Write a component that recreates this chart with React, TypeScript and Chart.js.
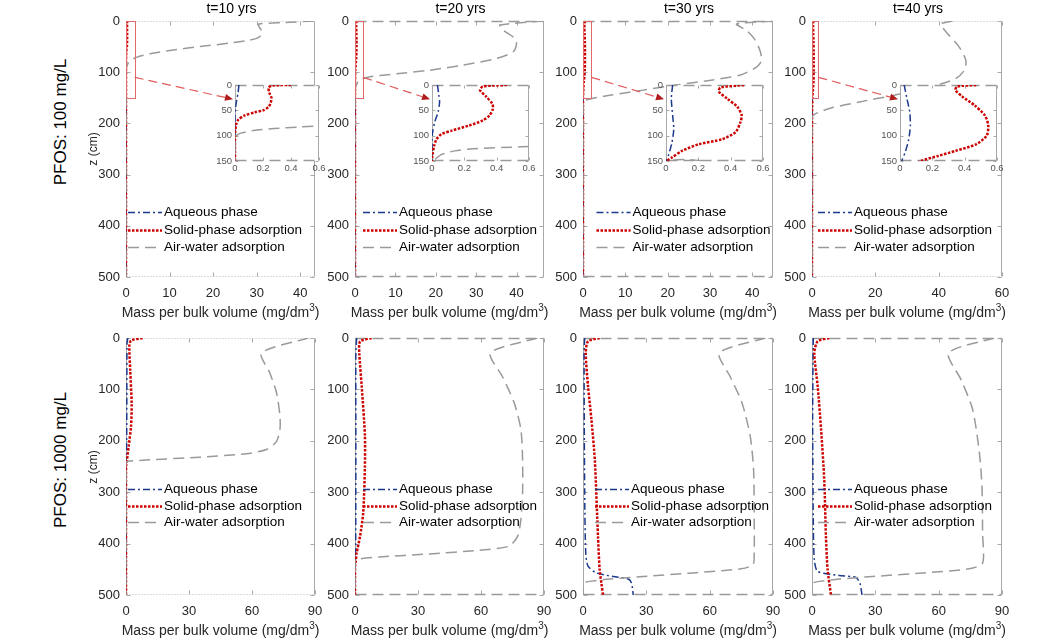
import React, { useEffect, useRef } from "react";
import { Chart, registerables } from "chart.js";

Chart.register(...registerables);

const FONT = '"Liberation Sans", Arial, Helvetica, sans-serif';
const BLUE = "#1b3a8c";
const RED = "#cc0000";
const GRAY = "#9a9a9a";
const AXIS = "#a8a8a8";
const TICK_TEXT = "#262626";
const ZOOM_RECT = "#e06a6a";
const ARROW_LINE = "#e05c5c";
const ARROW_HEAD = "#b01c1c";

// ---- text ----
const TIME_TITLES = ["t=10 yrs", "t=20 yrs", "t=30 yrs", "t=40 yrs"];
const ROW_LABELS = ["PFOS: 100 mg/L", "PFOS: 1000 mg/L"];
const SERIES_LABELS = ["Aqueous phase", "Solid-phase adsorption", "Air-water adsorption"];
const X_TITLE = "Mass per bulk volume (mg/dm";
const X_TITLE_SUP = "3";
const Y_TITLE = "z (cm)";

// ---- ticks / limits ----
const Z_TICKS = [0, 100, 200, 300, 400, 500];
const Z_MAX = 500;
const X_TICKS_TOP = [
  [0, 10, 20, 30, 40],
  [0, 10, 20, 30, 40],
  [0, 10, 20, 30, 40],
  [0, 20, 40, 60],
];
const X_MAX_TOP = [43.4, 46.8, 44.9, 60];
const X_TICKS_BOTTOM = [0, 30, 60, 90];
const X_MAX_BOTTOM = 90;
const INSET_Z_TICKS = [0, 50, 100, 150];
const INSET_Z_MAX = 150;
const INSET_X_TICKS = [0, 0.2, 0.4, 0.6];
const INSET_X_MAX = 0.6;
const ZOOM_BOX_X = 2;
const ZOOM_BOX_Z = 150;
const ARROW_FROM_Z = 110;
const ARROW_TO_Z = 28;

// ---- PFOS 100 mg/L (top row) ----
const A10_AQ_Z = [0, 15, 30, 45, 60, 500];
const A10_AQ_X = [0.028, 0.022, 0.012, 0.004, 0, 0];
const A10_SO_Z = [0, 1, 5, 15, 25, 35, 43, 50, 54, 60, 68, 78, 90, 100, 500];
const A10_SO_X = [0.4, 0.27, 0.24, 0.245, 0.26, 0.255, 0.24, 0.2, 0.14, 0.07, 0.025, 0.008, 0.002, 0, 0];
const A10_AW_Z = [0, 3, 6, 12, 20, 28, 34, 38, 43, 50, 57, 64, 71, 77, 80, 83, 86, 90, 95, 100, 103, 500];
const A10_AW_X = [43.1, 36.5, 30.5, 30.6, 31.2, 31.0, 30, 28, 24, 17, 10.5, 5.5, 2.4, 1.0, 0.7, 0.45, 0.28, 0.13, 0.04, 0.01, 0, 0];

const A20_AQ_Z = [0, 20, 33, 53, 73, 93, 107, 500];
const A20_AQ_X = [0.034, 0.042, 0.047, 0.038, 0.017, 0.004, 0, 0];
const A20_SO_Z = [0, 3, 10, 23, 37, 47, 60, 70, 80, 90, 97, 107, 120, 140, 150, 500];
const A20_SO_X = [0.462, 0.314, 0.297, 0.335, 0.373, 0.377, 0.356, 0.314, 0.229, 0.123, 0.059, 0.028, 0.013, 0.002, 0, 0];
const A20_AW_Z = [0, 8, 18, 34, 44, 60, 73, 86, 96, 103, 109, 114, 118, 122, 126, 130, 137, 147, 152, 500];
const A20_AW_X = [46.6, 35.9, 36.7, 39.6, 40, 39.2, 35.1, 26.8, 18.6, 10.3, 3.7, 1.5, 0.8, 0.55, 0.25, 0.14, 0.06, 0.017, 0, 0];

const A30_AQ_Z = [0, 27, 60, 87, 113, 137, 150, 160, 500];
const A30_AQ_X = [0.041, 0.033, 0.041, 0.048, 0.037, 0.017, 0.002, 0, 0];
const A30_SO_Z = [0, 5, 13, 27, 43, 60, 73, 93, 107, 117, 130, 143, 150, 160, 500];
const A30_SO_X = [0.482, 0.337, 0.327, 0.379, 0.441, 0.468, 0.461, 0.43, 0.348, 0.203, 0.099, 0.037, 0.006, 0, 0];
const A30_AW_Z = [0, 6, 18, 35, 57, 77, 90, 106, 116, 125, 135, 145, 151, 155, 158, 500];
const A30_AW_X = [44.9, 36.3, 38.6, 40.5, 41.8, 42.2, 41, 37, 29.9, 22, 14.2, 6.3, 2.4, 0.4, 0, 0];

const A40_AQ_Z = [0, 27, 53, 80, 107, 133, 150, 170, 200, 500];
const A40_AQ_X = [0.026, 0.043, 0.06, 0.064, 0.054, 0.032, 0.011, 0.003, 0, 0];
const A40_SO_Z = [0, 3, 10, 23, 40, 60, 80, 100, 117, 130, 140, 150, 165, 185, 210, 500];
const A40_SO_X = [0.471, 0.354, 0.343, 0.386, 0.461, 0.525, 0.546, 0.536, 0.471, 0.343, 0.236, 0.129, 0.05, 0.01, 0, 0];
const A40_AW_Z = [0, 6, 21, 51, 77, 96, 112, 122, 132, 145, 158, 170, 180, 188, 500];
const A40_AW_X = [44.4, 40.7, 42.3, 46.5, 48.6, 48.1, 45.5, 41.2, 34.5, 26, 15, 6, 1.5, 0, 0];

// ---- PFOS 1000 mg/L (bottom row) ----
const B10_AQ_Z = [0, 10, 100, 200, 240, 500];
const B10_AQ_X = [0.9, 0.5, 0.4, 0.3, 0, 0];
const B10_SO_Z = [0, 5, 16, 62, 127, 172, 211, 243, 250, 500];
const B10_SO_X = [7.9, 2.4, 1.6, 2.0, 2.7, 2.4, 1.25, 0.3, 0, 0];
const B10_AW_Z = [0, 29, 68, 107, 152, 178, 201, 217, 225, 232, 237, 240, 243, 500];
const B10_AW_X = [86.8, 64.5, 68.5, 71.7, 73.3, 73.3, 71.7, 66.9, 57.4, 35, 11.1, 0.8, 0, 0];

const B20_AQ_Z = [0, 30, 200, 410, 430, 500];
const B20_AQ_X = [0.8, 0.4, 0.4, 0.3, 0, 0];
const B20_SO_Z = [0, 7, 29, 94, 188, 253, 340, 386, 418, 437, 445, 500];
const B20_SO_X = [7.9, 2.4, 2.05, 3.2, 4.7, 4.7, 3.9, 2.4, 0.8, 0.3, 0, 0];
const B20_AW_Z = [0, 29, 75, 126, 178, 237, 300, 353, 386, 405, 413, 420, 426, 430, 433, 500];
const B20_AW_X = [86.8, 64.5, 70.2, 75.8, 79, 79.8, 79.8, 79, 77.4, 73.4, 59.2, 35.5, 11.8, 1.6, 0, 0];

const B30_AQ_Z = [0, 29, 300, 418, 444, 457, 464, 469, 477, 500];
const B30_AQ_X = [0.8, 0.5, 0.8, 1.3, 2.4, 6.4, 14.3, 21.4, 23, 23.8];
const B30_SO_Z = [0, 6.5, 29, 94, 159, 237, 386, 451, 477, 500];
const B30_SO_X = [7.9, 2.4, 1.3, 2.4, 4, 5.6, 7.1, 7.9, 8.7, 9.5];
const B30_AW_Z = [0, 29, 75, 126, 191, 256, 350, 418, 441, 449, 457, 464, 469, 473.5, 476, 478, 500];
const B30_AW_X = [86.4, 64.6, 69.7, 75.3, 79.2, 80.8, 81.1, 81.1, 80.5, 74.8, 52.3, 28.5, 12.7, 3.2, 0.3, 0, 0];

const B40_AQ_Z = [0, 150, 353, 431, 454, 462, 466, 477, 500];
const B40_AQ_X = [0.6, 0.3, 0.6, 1.1, 2.7, 12.9, 20.8, 22.7, 23.7];
const B40_SO_Z = [0, 6.5, 29, 94, 178, 276, 386, 451, 500];
const B40_SO_X = [8.2, 2.7, 1.1, 2.7, 4.3, 5.8, 6.6, 7.4, 9];
const B40_AW_Z = [0, 29, 81, 139, 224, 289, 380, 438, 449, 457, 464, 469, 473.5, 476, 478, 500];
const B40_AW_X = [86.3, 64.7, 70.6, 76.1, 79.3, 80.5, 80.8, 80.8, 74.5, 52.4, 28.7, 12.9, 3.5, 0.6, 0, 0];

// ---- layout (page pixels) ----
const COL_L = [126, 355, 583, 812];
const COL_R = [315, 544, 773, 1002];
const ROW_T = [21, 338];
const ROW_B = [277, 595];
const INSET_L = [235, 432, 666, 900];
const INSET_R = [319, 529, 763, 997];
const INSET_T = 85;
const INSET_B = 161;
const LEGEND_DX = [
  [2, 8, 13.5, 6],
  [2, 8, 12, 6],
];
const LEGEND_DY = [191, 151];
const LEGEND_GAP = [17.5, 16.5];
const TOP_BOTTOM_STYLE = [
  ["dot", "dash", "dash", "dot"],
  ["dot", "dash", "dash", "dash"],
];
const ROW_LABEL_CY = [122, 460];

const AX_W = 50, AX_H = 30, PAD_T = 14, PAD_R = 16;
const IN_AX_W = 26, IN_AX_H = 16, IN_PAD_T = 8, IN_PAD_R = 12;

const SERIES = [
  [
    [A10_AQ_Z, A10_AQ_X, A10_SO_Z, A10_SO_X, A10_AW_Z, A10_AW_X],
    [A20_AQ_Z, A20_AQ_X, A20_SO_Z, A20_SO_X, A20_AW_Z, A20_AW_X],
    [A30_AQ_Z, A30_AQ_X, A30_SO_Z, A30_SO_X, A30_AW_Z, A30_AW_X],
    [A40_AQ_Z, A40_AQ_X, A40_SO_Z, A40_SO_X, A40_AW_Z, A40_AW_X],
  ],
  [
    [B10_AQ_Z, B10_AQ_X, B10_SO_Z, B10_SO_X, B10_AW_Z, B10_AW_X],
    [B20_AQ_Z, B20_AQ_X, B20_SO_Z, B20_SO_X, B20_AW_Z, B20_AW_X],
    [B30_AQ_Z, B30_AQ_X, B30_SO_Z, B30_SO_X, B30_AW_Z, B30_AW_X],
    [B40_AQ_Z, B40_AQ_X, B40_SO_Z, B40_SO_X, B40_AW_Z, B40_AW_X],
  ],
];

function pts(z: number[], x: number[]) {
  return z.map((zz, i) => ({ x: x[i], y: zz }));
}

function makeDatasets(s: number[][]) {
  const base = { showLine: true, pointRadius: 0, pointHoverRadius: 0, fill: false, tension: 0.25 };
  return [
    { ...base, label: SERIES_LABELS[0], data: pts(s[0], s[1]), borderColor: BLUE, borderWidth: 1.5, borderDash: [7, 3, 2, 3], order: 2 },
    { ...base, label: SERIES_LABELS[1], data: pts(s[2], s[3]), borderColor: RED, borderWidth: 2.5, borderDash: [2.5, 1.5], order: 1 },
    { ...base, label: SERIES_LABELS[2], data: pts(s[4], s[5]), borderColor: GRAY, borderWidth: 1.5, borderDash: [11, 6], order: 0 },
  ];
}

function linScale(opts: any) {
  const { horizontal, min, max, ticks, size, pad, extent, color, reverse } = opts;
  return {
    type: "linear",
    position: horizontal ? "bottom" : "left",
    min,
    max,
    reverse: !!reverse,
    afterBuildTicks: (s: any) => {
      s.ticks = ticks.map((v: number) => ({ value: v }));
    },
    afterFit: (s: any) => {
      if (horizontal) s.height = extent;
      else s.width = extent;
      s.paddingLeft = 0;
      s.paddingRight = 0;
      s.paddingTop = 0;
      s.paddingBottom = 0;
    },
    grid: { display: false, drawTicks: false },
    border: { display: false },
    ticks: {
      autoSkip: false,
      maxRotation: 0,
      minRotation: 0,
      padding: pad,
      color,
      font: { family: FONT, size },
      callback: (v: any) => String(v),
    },
  };
}

function boxPlugin(tb: string, tickLen: number, fillWhite: boolean) {
  return {
    id: "box",
    beforeDatasetsDraw(chart: any) {
      const { ctx, chartArea: a, scales } = chart;
      const l = Math.round(a.left) + 0.5;
      const r = Math.round(a.right) - 0.5;
      const t = Math.round(a.top) + 0.5;
      const b = Math.round(a.bottom) - 0.5;
      ctx.save();
      if (fillWhite) {
        ctx.fillStyle = "#ffffff";
        ctx.fillRect(a.left, a.top, a.right - a.left, a.bottom - a.top);
      }
      ctx.strokeStyle = AXIS;
      ctx.lineWidth = 1;
      ctx.beginPath();
      ctx.moveTo(l, t);
      ctx.lineTo(l, b);
      ctx.moveTo(r, t);
      ctx.lineTo(r, b);
      scales.x.ticks.forEach((tk: any) => {
        const px = Math.round(scales.x.getPixelForValue(tk.value)) + 0.5;
        ctx.moveTo(px, t);
        ctx.lineTo(px, t + tickLen);
        ctx.moveTo(px, b);
        ctx.lineTo(px, b - tickLen);
      });
      scales.y.ticks.forEach((tk: any) => {
        const py = Math.round(scales.y.getPixelForValue(tk.value)) + 0.5;
        ctx.moveTo(l, py);
        ctx.lineTo(l + tickLen, py);
        ctx.moveTo(r, py);
        ctx.lineTo(r - tickLen, py);
      });
      ctx.stroke();
      if (tb === "dash") {
        ctx.strokeStyle = GRAY;
        ctx.lineWidth = 1.5;
        ctx.setLineDash([11, 6]);
      } else {
        ctx.strokeStyle = "#b8b8b8";
        ctx.lineWidth = 1;
        ctx.setLineDash([1, 2]);
      }
      ctx.beginPath();
      ctx.moveTo(l, t);
      ctx.lineTo(r, t);
      ctx.moveTo(l, b);
      ctx.lineTo(r, b);
      ctx.stroke();
      ctx.restore();
    },
  };
}

function legendPlugin(dx: number, dy: number, gap: number) {
  return {
    id: "inlineLegend",
    afterDatasetsDraw(chart: any) {
      const { ctx, chartArea: a } = chart;
      chart.data.datasets.forEach((ds: any, i: number) => {
        const y = Math.round(a.top + dy + i * gap) + 0.5;
        const x0 = a.left + dx;
        ctx.save();
        ctx.strokeStyle = ds.borderColor;
        ctx.lineWidth = ds.borderWidth;
        ctx.setLineDash(ds.borderDash || []);
        ctx.beginPath();
        ctx.moveTo(x0, y);
        ctx.lineTo(x0 + 34, y);
        ctx.stroke();
        ctx.setLineDash([]);
        ctx.fillStyle = "#000000";
        ctx.font = `13.5px ${FONT}`;
        ctx.textBaseline = "middle";
        ctx.textAlign = "left";
        ctx.fillText(ds.label, x0 + 36, y);
        ctx.restore();
      });
    },
  };
}

function zoomPlugin(getInset: () => any, offX: number, offY: number) {
  return {
    id: "zoomMark",
    afterDatasetsDraw(chart: any) {
      const ins = getInset();
      if (!ins) return;
      const { ctx, scales } = chart;
      const x0 = scales.x.getPixelForValue(0);
      const x1 = scales.x.getPixelForValue(ZOOM_BOX_X);
      const y0 = scales.y.getPixelForValue(0);
      const y1 = scales.y.getPixelForValue(ZOOM_BOX_Z);
      ctx.save();
      ctx.strokeStyle = ZOOM_RECT;
      ctx.lineWidth = 1;
      ctx.strokeRect(Math.round(x0) + 0.5, Math.round(y0) + 0.5, Math.round(x1 - x0), Math.round(y1 - y0));
      const sx = x1;
      const sy = scales.y.getPixelForValue(ARROW_FROM_Z);
      const ex = offX + ins.chartArea.left - 2;
      const ey = offY + ins.scales.y.getPixelForValue(ARROW_TO_Z);
      const ang = Math.atan2(ey - sy, ex - sx);
      const hl = 8, hw = 3.5;
      const bx = ex - hl * Math.cos(ang);
      const by = ey - hl * Math.sin(ang);
      ctx.strokeStyle = ARROW_LINE;
      ctx.lineWidth = 1.2;
      ctx.setLineDash([9, 5]);
      ctx.beginPath();
      ctx.moveTo(sx, sy);
      ctx.lineTo(bx, by);
      ctx.stroke();
      ctx.setLineDash([]);
      ctx.fillStyle = ARROW_HEAD;
      ctx.beginPath();
      ctx.moveTo(ex, ey);
      ctx.lineTo(bx - hw * Math.sin(ang), by + hw * Math.cos(ang));
      ctx.lineTo(bx + hw * Math.sin(ang), by - hw * Math.cos(ang));
      ctx.closePath();
      ctx.fill();
      ctx.restore();
    },
  };
}

const baseOptions = (padTop: number, padRight: number) => ({
  responsive: false,
  animation: false,
  devicePixelRatio: 1,
  events: [],
  layout: { padding: { left: 0, top: padTop, right: padRight, bottom: 0 } },
  plugins: { legend: { display: false }, tooltip: { enabled: false }, title: { display: false } },
});

function Panel({ row, col }: { row: number; col: number }) {
  const mainRef = useRef<HTMLCanvasElement>(null);
  const insetRef = useRef<HTMLCanvasElement>(null);
  const L = COL_L[col], R = COL_R[col], T = ROW_T[row], B = ROW_B[row];
  const mLeft = L - AX_W, mTop = T - PAD_T;
  const mW = R - L + AX_W + PAD_R, mH = B - T + PAD_T + AX_H;
  const hasInset = row === 0;
  const iL = INSET_L[col], iR = INSET_R[col];
  const iLeft = iL - IN_AX_W, iTop = INSET_T - IN_PAD_T;
  const iW = iR - iL + IN_AX_W + IN_PAD_R, iH = INSET_B - INSET_T + IN_PAD_T + IN_AX_H;

  useEffect(() => {
    const s = SERIES[row][col];
    let inset: any = null;
    if (hasInset && insetRef.current) {
      inset = new Chart(insetRef.current, {
        type: "scatter",
        data: { datasets: makeDatasets(s) as any },
        options: {
          ...baseOptions(IN_PAD_T, IN_PAD_R),
          scales: {
            x: linScale({ horizontal: true, min: 0, max: INSET_X_MAX, ticks: INSET_X_TICKS, size: 9.5, pad: 2, extent: IN_AX_H, color: "#555" }),
            y: linScale({ horizontal: false, min: 0, max: INSET_Z_MAX, ticks: INSET_Z_TICKS, size: 9.5, pad: 3, extent: IN_AX_W, color: "#555", reverse: true }),
          },
        } as any,
        plugins: [boxPlugin("dash", 3, true)],
      });
    }
    const xMax = row === 0 ? X_MAX_TOP[col] : X_MAX_BOTTOM;
    const xTicks = row === 0 ? X_TICKS_TOP[col] : X_TICKS_BOTTOM;
    const plugins: any[] = [
      boxPlugin(TOP_BOTTOM_STYLE[row][col], 4, false),
      legendPlugin(LEGEND_DX[row][col], LEGEND_DY[row], LEGEND_GAP[row]),
    ];
    if (hasInset) plugins.push(zoomPlugin(() => inset, iLeft - mLeft, iTop - mTop));
    const main = new Chart(mainRef.current as HTMLCanvasElement, {
      type: "scatter",
      data: { datasets: makeDatasets(s) as any },
      options: {
        ...baseOptions(PAD_T, PAD_R),
        scales: {
          x: linScale({ horizontal: true, min: 0, max: xMax, ticks: xTicks, size: 13, pad: 9, extent: AX_H, color: TICK_TEXT }),
          y: linScale({ horizontal: false, min: 0, max: Z_MAX, ticks: Z_TICKS, size: 13, pad: 6, extent: AX_W, color: TICK_TEXT, reverse: true }),
        },
      } as any,
      plugins,
    });
    return () => {
      main.destroy();
      if (inset) inset.destroy();
    };
  }, []);

  return (
    <>
      <canvas ref={mainRef} width={mW} height={mH} style={{ position: "absolute", left: mLeft, top: mTop, width: mW, height: mH }} />
      {hasInset && (
        <canvas ref={insetRef} width={iW} height={iH} style={{ position: "absolute", left: iLeft, top: iTop, width: iW, height: iH }} />
      )}
    </>
  );
}

const centered = (cx: number, cy: number, size: number, extra: any = {}) => ({
  position: "absolute" as const,
  left: cx,
  top: cy,
  transform: "translate(-50%, -50%)",
  whiteSpace: "nowrap" as const,
  fontFamily: FONT,
  fontSize: size,
  lineHeight: `${size + 3}px`,
  color: "#000",
  ...extra,
});

export default function App() {
  const cells: any[] = [];
  [0, 1].forEach((row) => [0, 1, 2, 3].forEach((col) => cells.push(<Panel key={`${row}-${col}`} row={row} col={col} />)));
  return (
    <div style={{ position: "absolute", left: 0, top: 0, width: 1050, height: 639, background: "#fff", overflow: "hidden", fontFamily: FONT }}>
      {cells}
      {TIME_TITLES.map((t, col) => (
        <div key={t} style={centered((COL_L[col] + COL_R[col]) / 2 + 11, 7.5, 14)}>{t}</div>
      ))}
      {[0, 1].map((row) =>
        [0, 1, 2, 3].map((col) => (
          <div key={`xt-${row}-${col}`} style={centered((COL_L[col] + COL_R[col]) / 2, row === 0 ? 313 : 631, 14, { color: "#262626" })}>
            {X_TITLE}
            <sup style={{ fontSize: 10, verticalAlign: "baseline", position: "relative", top: -6 }}>{X_TITLE_SUP}</sup>)
          </div>
        ))
      )}
      {ROW_LABELS.map((lab, row) => (
        <div key={lab} style={centered(61, ROW_LABEL_CY[row], 17, { transform: "translate(-50%, -50%) rotate(-90deg)" })}>{lab}</div>
      ))}
      {[0, 1].map((row) => (
        <div key={`yt-${row}`} style={centered(93, (ROW_T[row] + ROW_B[row]) / 2, 12, { transform: "translate(-50%, -50%) rotate(-90deg)", color: "#262626" })}>
          {Y_TITLE}
        </div>
      ))}
    </div>
  );
}
